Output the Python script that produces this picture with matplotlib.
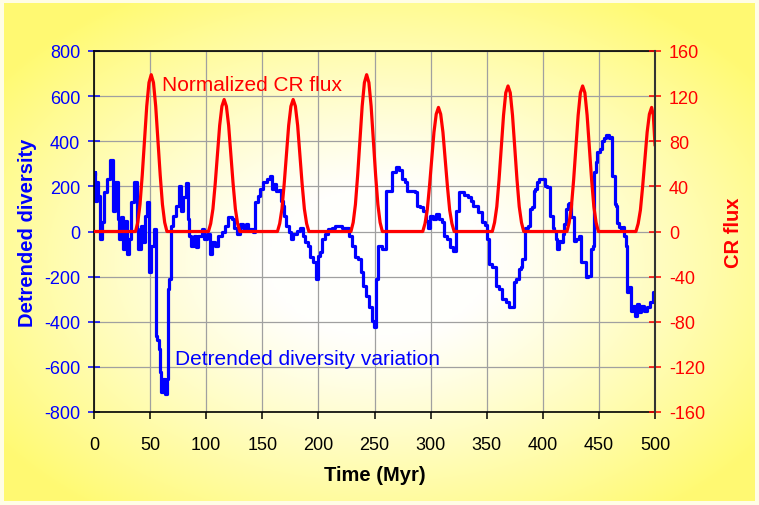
#!/usr/bin/env python3
"""Detrended diversity vs. normalized cosmic ray flux over the last 500 Myr."""

import matplotlib

matplotlib.use("Agg")
import matplotlib.pyplot as plt
import numpy as np


BLUE = "#0000ff"
RED = "#ff0000"
GRID = "#a0a0a0"

# detrended diversity (left axis)
DIV_TIME = [
    0, 0.9, 1.5, 3, 4.5, 6, 8, 10.7, 13, 16.3, 17.3, 20.2, 21.7, 22.6, 24.9, 26.4,
    28.8, 29.4, 32.4, 33.9, 37.5, 38.4, 40.8, 42.8, 44.3, 46.7, 47.9, 49.4, 51.8,
    54.4, 55.9, 57, 58, 59, 60.5, 62.5, 64.2, 65.3, 65.9, 68, 69, 71, 74.6, 77,
    78.5, 80.5, 83.5, 84.5, 85.6, 87.6, 90, 91.5, 94.5, 97.4, 99.5, 101.9, 104.3,
    106.4, 109.3, 112.3, 115.3, 118.3, 121.2, 124.1, 125.7, 128.6, 131.6, 134.6,
    136.1, 137.6, 140.6, 142, 145, 147.1, 149.4, 152.4, 155.4, 157.7, 158.9,
    161.3, 163, 166, 167.5, 169, 170.5, 172.3, 174.7, 176.2, 179.1, 182.1, 185.1,
    187.2, 188.9, 191.9, 194, 197, 199, 200, 202.9, 204.4, 207.4, 210.3, 213.3,
    216.3, 219.3, 222.2, 226.7, 228.2, 231.1, 234.1, 237.1, 238.6, 241.5, 243.6,
    246, 249, 250.4, 252, 254.3, 259.4, 260.9, 265.3, 266, 268.5, 270.7, 273.5,
    275.7, 278, 280.2, 284.7, 287.5, 289.1, 292, 295, 296.5, 298, 300.5, 303.3,
    306.9, 308.4, 311.3, 312.8, 315.8, 318.8, 321.8, 322.6, 324.7, 326.2, 329.2,
    330.7, 335.1, 336.6, 339.6, 345.5, 346.4, 349.9, 351.4, 352.3, 357.4, 358.9,
    363.3, 364.8, 369.3, 370.2, 373.7, 374.3, 378.2, 379.1, 381.2, 382.1, 384.1,
    385, 388, 388.6, 391.5, 392.1, 394.5, 395.1, 397.5, 401.1, 402, 405.8, 406.4,
    408.8, 409.4, 410.9, 411.8, 413.9, 415.4, 416.9, 418.3, 419.8, 421.3, 422.8,
    424.5, 425.7, 427.5, 428.1, 431, 433.2, 434.7, 437.5, 439.1, 442.1, 443.6,
    445.2, 446, 448, 449.5, 451.9, 453.1, 455.4, 457.8, 459.8, 461.4, 461.6,
    463.8, 464.4, 465.9, 466.2, 468.8, 470.3, 471.8, 473.3, 474.8, 475.7, 477.7,
    479.2, 481.6, 482.8, 484.6, 486.6, 488.7, 491.1, 494, 497, 500,
]
DIVERSITY = [
    250, 264, 137, 219, 157, -33, 42, 175, 233, 318, 92, 218, 55, -33, 64, -78,
    48, -100, -33, 131, 219, 11, -78, 26, -47, 70, 131, -180, -63,
    11, -462, -480, -521, -623, -712, -654, -720, -654, -255, -210, 26, 70, 114, 203,
    92, 153, 215, 55, -18, -63, -18, -70, -18, 11, -33, -11, -100,
    -47, -63, -18, 0, 26, 64, 55, 17, -11, 33, 17,
    33, 11, 11, -4, 131, 157, 188, 219, 233, 247, 188,
    210, 180, 185, 137, 114, 70, 26, -2, -33, -11, 2, 17,
    -18, -47, -63, -113, -136, -210, -107, -92, -33, -11, 11, 17,
    26, 26, 17, 17, -18, -63, -113, -121, -180, -240, -284,
    -335, -395, -424, -210, -63, -78, 181, 181, 264, 264, 285, 271,
    233, 219, 181, 181, 173, 114, 107, 92, 48, 17, 70, 55,
    78, 55, 40, -18, -33, -70, -85, 92, 92, 175, 175,
    160, 151, 137, 114, 85, 40, 30, -33, -144, -158, -240,
    -255, -299, -314, -336, -336, -225, -210, -166, -158, -121, -121,
    17, 26, 100, 107, 181, 188, 218, 233, 233, 203, 196, 70,
    70, 17, 2, -33, -78, -41, -47, -11, 33, 100, 122,
    126, 66, 66, -41, -33, -18, -137, -137, -203, -196, -78,
    -63, 262, 307, 351, 366, 402, 414, 429, 414, 421, 244,
    244, 122, 114, 37, 22, 7, 22, -18, -63, -270, -248,
    -351, -329, -373, -322, -358, -329, -351, -336, -314, -270,
]

# normalized cosmic ray flux (right axis)
CR_TIME = [
    0,
    35, 37, 39, 41, 43, 45, 47, 49, 51, 53, 55, 57, 59, 61, 63, 65, 67,
    100, 102, 104, 106, 108, 110, 112, 114, 116, 118, 120, 122, 124, 126, 128, 130, 132,
    161.5, 163.5, 165.5, 167.5, 169.5, 171.5, 173.5, 175.5, 177.5, 179.5, 181.5,
    183.5, 185.5, 187.5, 189.5, 191.5, 193.5,
    227, 229, 231, 233, 235, 237, 239, 241, 243, 245, 247, 249, 251, 253, 255, 257, 259,
    291, 293, 295, 297, 299, 301, 303, 305, 307, 309, 311, 313, 315, 317, 319, 321, 323,
    353, 355, 357, 359, 361, 363, 365, 367, 369, 371, 373, 375, 377, 379, 381, 383, 385,
    419.5, 421.5, 423.5, 425.5, 427.5, 429.5, 431.5, 433.5, 435.5, 437.5, 439.5,
    441.5, 443.5, 445.5, 447.5, 449.5, 451.5,
    481, 483, 485, 487, 489, 491, 493, 495, 497, 498.5, 500,
]
CR_FLUX = [
    0,
    0, 0, 8, 24, 50, 81, 111, 132, 139, 132, 111, 81, 50, 24, 8, 0, 0,
    0, 0, 7, 20, 42, 68, 94, 111, 117, 111, 94, 68, 42, 20, 7, 0, 0,
    0, 0, 7, 20, 42, 68, 94, 111, 117, 111, 94,
    68, 42, 20, 7, 0, 0,
    0, 0, 8, 24, 50, 81, 111, 132, 139, 132, 111, 81, 50, 24, 8, 0, 0,
    0, 0, 7, 19, 40, 64, 88, 104, 110, 104, 88, 64, 40, 19, 7, 0, 0,
    0, 0, 8, 22, 46, 75, 103, 123, 129, 123, 103, 75, 46, 22, 8, 0, 0,
    0, 0, 8, 22, 46, 75, 103, 123, 129, 123, 103,
    75, 46, 22, 8, 0, 0,
    0, 0, 7, 19, 40, 64, 88, 104, 110, 103, 77,
]

X_TICKS = list(range(0, 501, 50))
DIV_TICKS = list(range(-800, 801, 200))
CR_TICKS = list(range(-160, 161, 40))


def setup():
    plt.rcParams.update(
        {
            "font.family": ["Liberation Sans", "DejaVu Sans"],
            "font.size": 13,
            "axes.linewidth": 1.2,
            "axes.unicode_minus": False,
        }
    )


def draw_background(fig):
    # soft radial white-to-yellow wash behind everything
    bg = fig.add_axes([4 / 759, 4 / 506, 751 / 759, 498 / 506], zorder=-10)
    ny, nx = 250, 380
    yy, xx = np.mgrid[0:1:ny * 1j, 0:1:nx * 1j]
    r = np.sqrt(((xx - 0.5) / 0.5) ** 2 + ((yy - 0.48) / 0.5) ** 2)
    s = np.clip((r - 0.3) / 0.95, 0, 1) ** 1.1
    white = np.array([1.0, 1.0, 0.99])
    yellow = np.array([1.0, 0.98, 0.45])
    img = white[None, None, :] * (1 - s[..., None]) + yellow[None, None, :] * s[..., None]
    bg.imshow(img, aspect="auto", extent=[0, 1, 0, 1], origin="lower")
    bg.set_axis_off()


def main():
    setup()
    fig = plt.figure(figsize=(7.59, 5.06), dpi=100)
    fig.patch.set_facecolor("#fffde6")
    draw_background(fig)

    ax = fig.add_axes([94 / 759, 1 - 413 / 506, 561 / 759, 361 / 506])
    ax.patch.set_alpha(0)
    ax.plot(DIV_TIME, DIVERSITY, color=BLUE, linewidth=2.3, drawstyle="steps-mid")
    ax.set_xlim(0, 500)
    ax.set_ylim(-800, 800)
    ax.set_xticks(X_TICKS)
    ax.set_yticks(DIV_TICKS)
    ax.grid(True, color=GRID, linewidth=0.9)
    ax.set_axisbelow(True)
    ax.tick_params(axis="y", colors=BLUE, direction="inout", length=8, width=1.1, pad=6)
    ax.tick_params(axis="x", colors="black", direction="out", length=5, width=1.1, pad=12)
    ax.set_ylabel("Detrended diversity", color=BLUE, fontsize=14.5, fontweight="bold", labelpad=5)
    ax.set_xlabel("Time (Myr)", color="black", fontsize=14.5, fontweight="bold", labelpad=9)
    for side in ["left", "bottom", "top"]:
        ax.spines[side].set_color("black")
    ax.spines["right"].set_visible(False)

    ax2 = ax.twinx()
    ax2.plot(CR_TIME, CR_FLUX, color=RED, linewidth=2.3)
    ax2.set_ylim(-160, 160)
    ax2.set_yticks(CR_TICKS)
    ax2.tick_params(axis="y", colors=RED, direction="inout", length=8, width=1.1, pad=6)
    ax2.spines["right"].set_color("#333333")
    ax2.spines["right"].set_linewidth(1.5)
    for side in ["left", "bottom", "top"]:
        ax2.spines[side].set_visible(False)
    ax2.set_ylabel("CR flux", color=RED, fontsize=14.5, fontweight="bold", labelpad=14)

    ax2.text(60.5, 130, "Normalized CR flux", color=RED, fontsize=15, va="center", ha="left")
    ax2.text(72, -113, "Detrended diversity variation", color=BLUE, fontsize=15,
             va="center", ha="left")

    fig.savefig("out.png", dpi=100)
    plt.close(fig)


if __name__ == "__main__":
    main()
